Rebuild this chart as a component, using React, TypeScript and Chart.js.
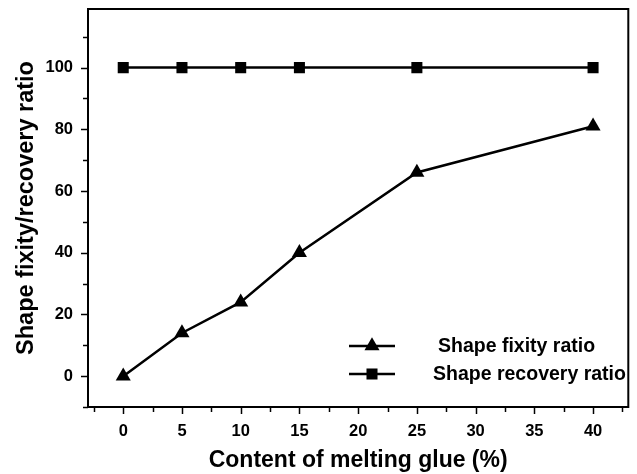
import React, { useEffect, useRef } from "react";
import { Chart, registerables } from "chart.js";

Chart.register(...registerables);

const glueContent = [0, 5, 10, 15, 25, 40];
const fixityRatio = [0, 14, 24, 40, 66, 81];
const recoveryRatio = [100, 100, 100, 100, 100, 100];
const xTickValues = [0, 5, 10, 15, 20, 25, 30, 35, 40];
const xMinorTicks = [-2.5, 2.5, 7.5, 12.5, 17.5, 22.5, 27.5, 32.5, 37.5, 42.5];
const yTickValues = [0, 20, 40, 60, 80, 100];
const yMinorTicks = [-10, 10, 30, 50, 70, 90, 110];
const seriesNames = ["Shape fixity ratio", "Shape recovery ratio"];

const FONT = "'Liberation Sans', Arial, sans-serif";

function drawMarker(ctx: CanvasRenderingContext2D, style: string, x: number, y: number, r: number) {
  ctx.beginPath();
  if (style === "triangle") {
    ctx.moveTo(x, y - r);
    ctx.lineTo(x + r * Math.sin(Math.PI / 3), y + r * 0.5);
    ctx.lineTo(x - r * Math.sin(Math.PI / 3), y + r * 0.5);
    ctx.closePath();
  } else {
    const s = Math.SQRT1_2 * r;
    ctx.rect(x - s, y - s, 2 * s, 2 * s);
  }
  ctx.fill();
}

const framePlugin = {
  id: "frame",
  afterDraw(chart: any) {
    const { ctx, chartArea } = chart;
    const xs = chart.scales.x;
    const ys = chart.scales.y;
    ctx.save();
    ctx.strokeStyle = "#000";
    ctx.lineWidth = 2;
    ctx.strokeRect(chartArea.left, chartArea.top, chartArea.right - chartArea.left, chartArea.bottom - chartArea.top);
    ctx.lineWidth = 1.5;
    xTickValues.forEach((v) => {
      const px = Math.round(xs.getPixelForValue(v)) + 0.5;
      ctx.beginPath();
      ctx.moveTo(px, chartArea.bottom);
      ctx.lineTo(px, chartArea.bottom + 7);
      ctx.stroke();
    });
    xMinorTicks.forEach((v) => {
      const px = Math.round(xs.getPixelForValue(v)) + 0.5;
      ctx.beginPath();
      ctx.moveTo(px, chartArea.bottom);
      ctx.lineTo(px, chartArea.bottom + 5);
      ctx.stroke();
    });
    yTickValues.forEach((v) => {
      const py = Math.round(ys.getPixelForValue(v)) + 0.5;
      ctx.beginPath();
      ctx.moveTo(chartArea.left, py);
      ctx.lineTo(chartArea.left - 7, py);
      ctx.stroke();
    });
    yMinorTicks.forEach((v) => {
      const py = Math.round(ys.getPixelForValue(v)) + 0.5;
      ctx.beginPath();
      ctx.moveTo(chartArea.left, py);
      ctx.lineTo(chartArea.left - 5, py);
      ctx.stroke();
    });
    // legend
    const styles = ["triangle", "rect"];
    const radii = [8.7, 7.8];
    const rows = [346, 374];
    const textX = [438, 433];
    ctx.fillStyle = "#000";
    ctx.font = `bold 19.5px ${FONT}`;
    ctx.textBaseline = "middle";
    ctx.textAlign = "left";
    seriesNames.forEach((name, i) => {
      const y = rows[i];
      ctx.lineWidth = 2.5;
      ctx.beginPath();
      ctx.moveTo(349, y);
      ctx.lineTo(395, y);
      ctx.stroke();
      drawMarker(ctx, styles[i], 372, y, radii[i]);
      ctx.fillText(name, textX[i], y + 1);
    });
    ctx.restore();
  },
};

export default function App() {
  const ref = useRef<HTMLCanvasElement>(null);
  useEffect(() => {
    document.body.style.margin = "0";
    const chart = new Chart(ref.current!, {
      type: "line",
      data: {
        datasets: [
          {
            label: seriesNames[0],
            data: glueContent.map((x, i) => ({ x, y: fixityRatio[i] })),
            borderColor: "#000",
            backgroundColor: "#000",
            borderWidth: 2.5,
            pointStyle: "triangle",
            pointRadius: 8.7,
            pointBackgroundColor: "#000",
            pointBorderWidth: 0,
          },
          {
            label: seriesNames[1],
            data: glueContent.map((x, i) => ({ x, y: recoveryRatio[i] })),
            borderColor: "#000",
            backgroundColor: "#000",
            borderWidth: 2.5,
            pointStyle: "rect",
            pointRadius: 7.8,
            pointBackgroundColor: "#000",
            pointBorderWidth: 0,
          },
        ],
      },
      options: {
        animation: false,
        responsive: false,
        maintainAspectRatio: false,
        layout: { padding: { left: 0, right: 5, top: 9, bottom: 0 } },
        plugins: { legend: { display: false }, tooltip: { enabled: false } },
        scales: {
          x: {
            type: "linear",
            min: -3,
            max: 43,
            afterBuildTicks: (s: any) => {
              s.ticks = xTickValues.map((v) => ({ value: v }));
            },
            afterFit: (s: any) => {
              s.height = 67;
              s.paddingLeft = 0;
              s.paddingRight = 0;
            },
            grid: { display: false, drawTicks: false },
            border: { display: false },
            ticks: {
              color: "#000",
              padding: 15,
              font: { family: FONT, size: 16.5, weight: "bold" },
              maxRotation: 0,
            },
            title: {
              display: true,
              text: "Content of melting glue (%)",
              color: "#000",
              font: { family: FONT, size: 23, weight: "bold" },
              padding: { top: 2, bottom: 0 },
            },
          },
          y: {
            type: "linear",
            min: -10,
            max: 119,
            afterBuildTicks: (s: any) => {
              s.ticks = yTickValues.map((v) => ({ value: v }));
            },
            afterFit: (s: any) => {
              s.width = 88;
              s.paddingTop = 0;
              s.paddingBottom = 0;
            },
            grid: { display: false, drawTicks: false },
            border: { display: false },
            ticks: {
              color: "#000",
              padding: 15,
              font: { family: FONT, size: 16.5, weight: "bold" },
            },
            title: {
              display: true,
              text: "Shape fixity/recovery ratio",
              color: "#000",
              font: { family: FONT, size: 23.5, weight: "bold" },
              padding: { top: 12, bottom: 0 },
            },
          },
        },
      },
      plugins: [framePlugin],
    } as any);
    return () => chart.destroy();
  }, []);
  return (
    <div style={{ position: "absolute", left: 0, top: 0, width: 637, height: 474, background: "#fff" }}>
      <canvas ref={ref} width={637} height={474} style={{ width: 637, height: 474 }} />
    </div>
  );
}
